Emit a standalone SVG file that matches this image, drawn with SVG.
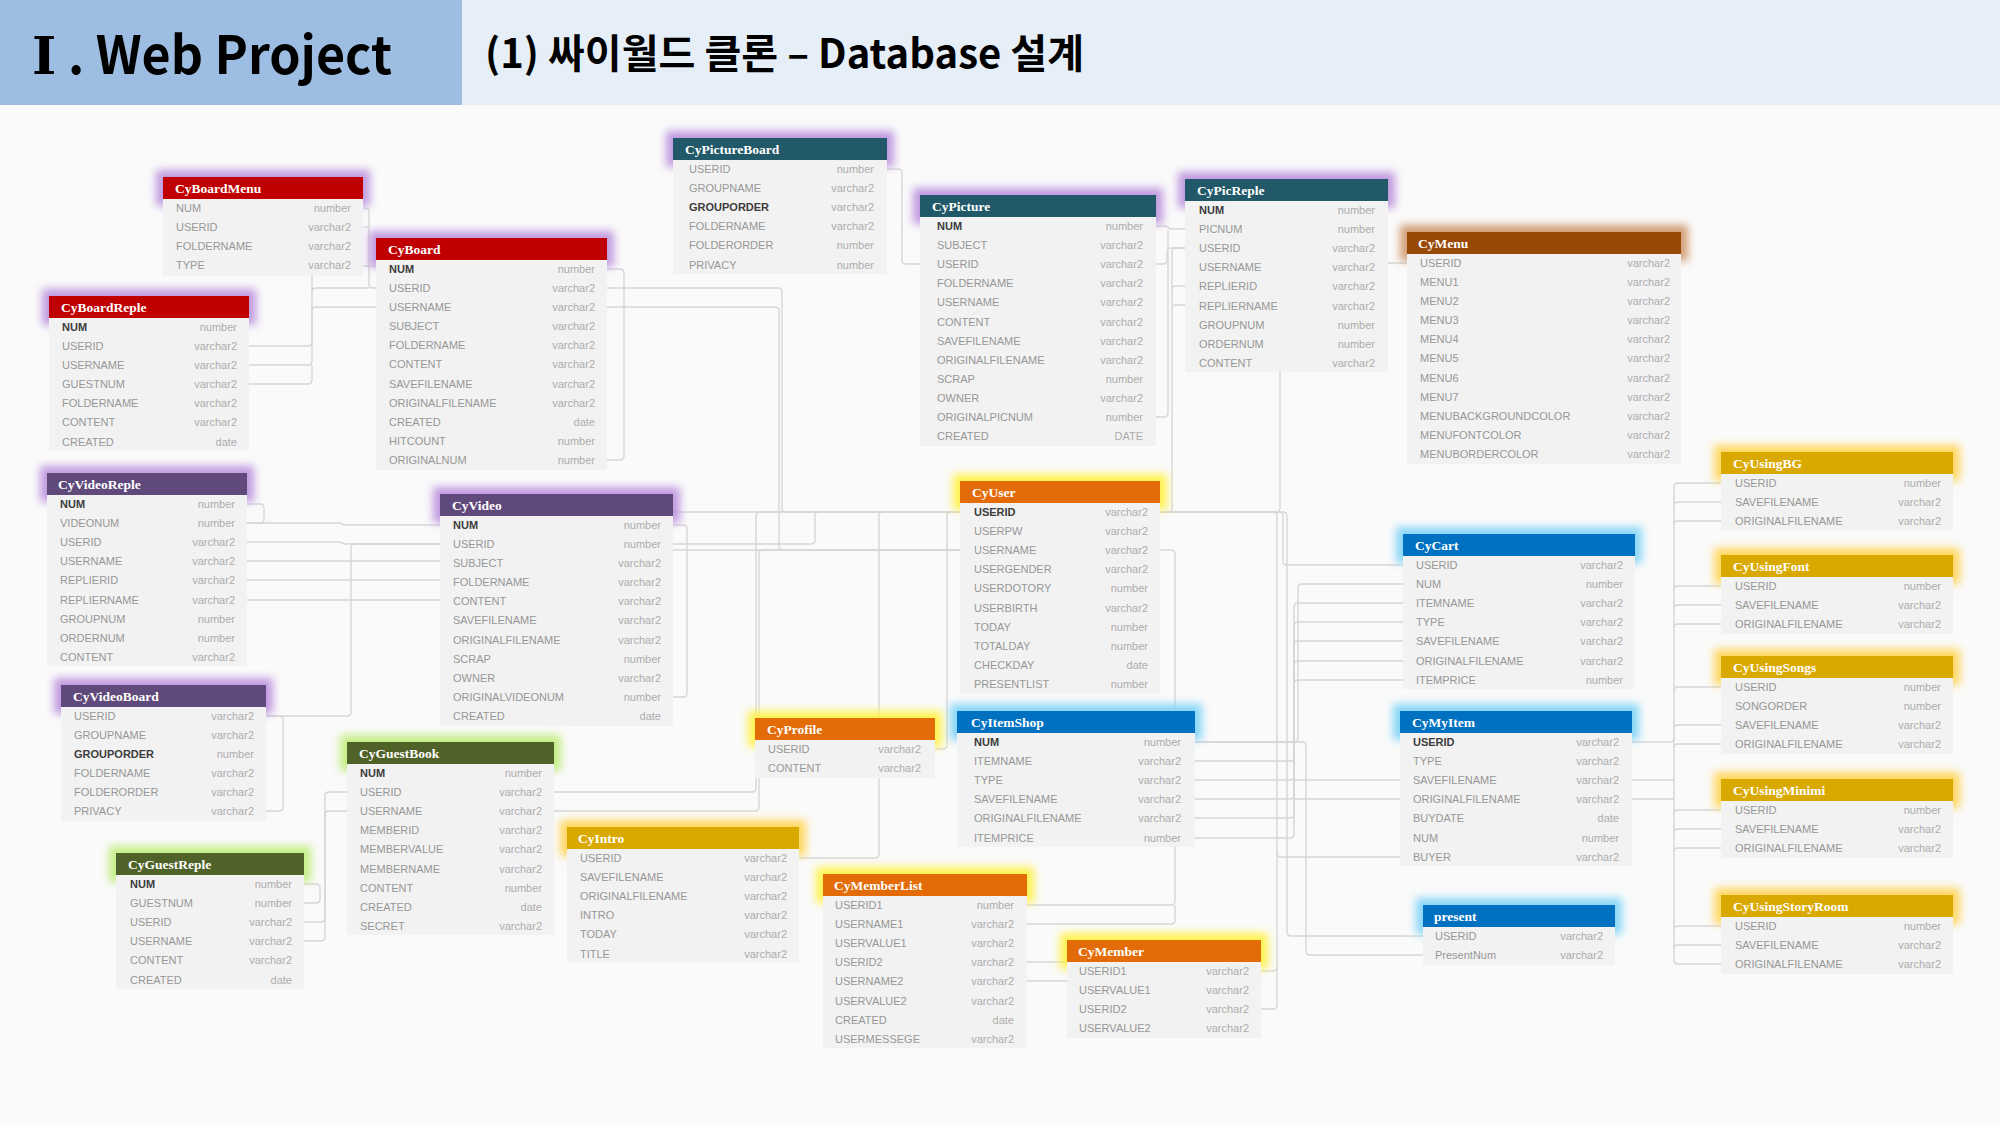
<svg xmlns="http://www.w3.org/2000/svg" width="2000" height="1125" viewBox="0 0 2000 1125">
<style>
.bg{fill:#FAFAFA}
.body{fill:#F2F2F2}
.hd{font-family:"Liberation Serif",serif;font-weight:bold;font-size:13.5px;fill:#FFFFFF}
.f{font-family:"Liberation Sans",Arial,sans-serif;font-size:11px;fill:#979797}
.k{font-family:"Liberation Sans",Arial,sans-serif;font-size:11px;font-weight:bold;fill:#3C3C3C}
.t{font-family:"Liberation Sans",Arial,sans-serif;font-size:11px;fill:#ADADAD;text-anchor:end}
.gp{fill:#C09AE0}
.gg{fill:#C4EE84}
.gy{fill:#FFF350}
.go{fill:#FFD860}
.gc{fill:#86D6F8}
.gb{fill:#D29E76}
.red{fill:#C00000}
.teal{fill:#215968}
.pur{fill:#604A7B}
.grn{fill:#4F6228}
.brn{fill:#984807}
.org{fill:#E36C09}
.blu{fill:#0070C0}
.gld{fill:#DAA900}
#connectors path{fill:none;stroke:#D6D6D6;stroke-width:1.4}
</style>
<defs>
<filter id="blur" x="-30%" y="-150%" width="160%" height="400%"><feGaussianBlur stdDeviation="4.5"/></filter>
</defs>
<rect class="bg" x="0" y="0" width="2000" height="1125"/>
<g id="titlebar">
<rect x="0" y="0" width="462" height="105" fill="#9DBEE2"/>
<rect x="462" y="0" width="1538" height="105" fill="#E6EEF8"/>
<text y="74" font-family="'Noto Sans CJK KR','Noto Sans',sans-serif" font-weight="bold" font-size="52" fill="#000"><tspan x="32" font-family="'DejaVu Serif','Liberation Serif',serif">Ⅰ</tspan><tspan x="68" textLength="324" lengthAdjust="spacingAndGlyphs">. Web Project</tspan></text>
<text x="485" y="68" font-family="'Noto Sans CJK KR','Noto Sans',sans-serif" font-weight="bold" font-size="40" fill="#000" textLength="599" lengthAdjust="spacingAndGlyphs">(1) 싸이월드 클론 – Database 설계</text>
</g>
<g id="connectors">
<path d="M363,208 H365 Q369,208 369,212 V284 Q369,288 373,288 H376"/>
<path d="M363,227 H369"/>
<path d="M363,266 H376"/>
<path d="M249,346 H308 Q312,346 312,342 V292 Q312,288 316,288 H369"/>
<path d="M249,365 H308 Q312,365 312,361 V311 Q312,307 316,307 H376"/>
<path d="M249,384 H308 Q312,384 312,380 V365"/>
<path d="M312,276 V292"/>
<path d="M607,269 H620 Q624,269 624,273 V456 Q624,460 620,460 H607"/>
<path d="M607,288 H778 Q782,288 782,292 V508 Q782,512 786,512 H960"/>
<path d="M607,307 H775 Q779,307 779,311 V546 Q779,550 783,550 H960"/>
<path d="M247,504 H260 Q264,504 264,508 V519 Q264,523 260,523 H247"/>
<path d="M247,523 H338 Q342,523 344,525 H440"/>
<path d="M247,542 H338 Q342,542 344,544 H440"/>
<path d="M247,561 H440"/>
<path d="M247,580 H440"/>
<path d="M247,600 H440"/>
<path d="M266,716 H347 Q351,716 351,712 V548 Q351,544 355,544 H440"/>
<path d="M266,716 H279 Q283,716 283,720 V807 Q283,811 279,811 H266"/>
<path d="M673,525 H683 Q687,525 687,529 V693 Q687,697 683,697 H673"/>
<path d="M673,512 H960"/>
<path d="M673,544 H811 Q815,544 815,540 V516 Q815,512 819,512"/>
<path d="M673,550 H960"/>
<path d="M554,792 H752 Q756,792 756,788 V516 Q756,512 760,512 H782"/>
<path d="M554,811 H755 Q759,811 759,807 V554 Q759,550 763,550 H779"/>
<path d="M799,858 H875 Q879,858 879,854 V516 Q879,512 883,512"/>
<path d="M935,749 H943 Q947,749 947,745 V516 Q947,512 951,512"/>
<path d="M304,884 H316 Q320,884 320,888 V899 Q320,903 316,903 H304"/>
<path d="M304,922 H321 Q325,922 325,918 V796 Q325,792 329,792 H347"/>
<path d="M304,941 H321 Q325,941 325,937 V815 Q325,811 329,811 H347"/>
<path d="M887,169 H898 Q902,169 902,173 V260 Q902,264 906,264 H920"/>
<path d="M1156,226 H1164 Q1168,226 1170,229 H1185"/>
<path d="M1156,264 H1163 Q1167,264 1167,260 V252 Q1167,248 1171,248 H1185"/>
<path d="M1156,417 H1164 Q1168,417 1168,413 V230"/>
<path d="M1185,248 H1176 Q1172,248 1172,252 V508 Q1172,512 1168,512 H1160"/>
<path d="M1185,286 H1176 Q1172,286 1172,290"/>
<path d="M1185,305 H1176 Q1172,305 1172,309"/>
<path d="M1160,550 H1171 Q1175,550 1175,554 V901 Q1175,905 1171,905 H1027"/>
<path d="M1175,905 V920 Q1175,924 1171,924 H1027"/>
<path d="M1407,263 H1284 Q1280,263 1280,267 V508 Q1280,512 1276,512 H1160"/>
<path d="M1160,512 H1279 Q1283,512 1283,516 V561 Q1283,565 1287,565 H1403"/>
<path d="M1160,512 H1273 Q1277,512 1277,516 V1005 Q1277,1009 1273,1009 H1261"/>
<path d="M1277,853 Q1277,857 1281,857 H1400"/>
<path d="M1261,971 H1273 Q1277,971 1277,967"/>
<path d="M1160,512 H1283 Q1287,512 1287,516 V932 Q1287,936 1291,936 H1423"/>
<path d="M1195,742 H1302 Q1306,742 1306,746 V951 Q1306,955 1310,955 H1423"/>
<path d="M1195,742 H1294 Q1298,742 1298,738 V588 Q1298,584 1302,584 H1403"/>
<path d="M1195,761 H1290 Q1294,761 1294,757 V607 Q1294,603 1298,603 H1403"/>
<path d="M1195,780 H1290 Q1294,780 1294,776 V626 Q1294,622 1298,622 H1403"/>
<path d="M1195,799 H1290 Q1294,799 1294,795 V645 Q1294,641 1298,641 H1403"/>
<path d="M1195,818 H1290 Q1294,818 1294,814 V665 Q1294,661 1298,661 H1403"/>
<path d="M1195,838 H1290 Q1294,838 1294,834 V684 Q1294,680 1298,680 H1403"/>
<path d="M1294,780 H1400"/>
<path d="M1294,799 H1400"/>
<path d="M1674,487 V960"/>
<path d="M1674,487 Q1674,483 1678,483 H1721"/>
<path d="M1674,506 Q1674,502 1678,502 H1721"/>
<path d="M1674,525 Q1674,521 1678,521 H1721"/>
<path d="M1674,590 Q1674,586 1678,586 H1721"/>
<path d="M1674,609 Q1674,605 1678,605 H1721"/>
<path d="M1674,628 Q1674,624 1678,624 H1721"/>
<path d="M1674,691 Q1674,687 1678,687 H1721"/>
<path d="M1674,729 Q1674,725 1678,725 H1721"/>
<path d="M1674,748 Q1674,744 1678,744 H1721"/>
<path d="M1674,814 Q1674,810 1678,810 H1721"/>
<path d="M1674,833 Q1674,829 1678,829 H1721"/>
<path d="M1674,852 Q1674,848 1678,848 H1721"/>
<path d="M1674,930 Q1674,926 1678,926 H1721"/>
<path d="M1674,949 Q1674,945 1678,945 H1721"/>
<path d="M1674,960 Q1674,964 1678,964 H1721"/>
<path d="M1632,742 H1670 Q1674,742 1674,738"/>
<path d="M1632,780 H1674"/>
<path d="M1632,799 H1674"/>
<path d="M1027,962 H1100"/>
<path d="M1027,981 H1100"/>
</g>

<g id="CyBoardMenu">
<rect class="gp" x="156" y="170" width="214" height="36" filter="url(#blur)"/>
<rect class="body" x="163" y="199" width="200" height="77"/>
<rect class="red" x="163" y="177" width="200" height="22"/>
<text class="hd" x="175" y="192.5">CyBoardMenu</text>
<text class="f" x="176" y="212">NUM</text><text class="t" x="351" y="212">number</text>
<text class="f" x="176" y="231">USERID</text><text class="t" x="351" y="231">varchar2</text>
<text class="f" x="176" y="250">FOLDERNAME</text><text class="t" x="351" y="250">varchar2</text>
<text class="f" x="176" y="269">TYPE</text><text class="t" x="351" y="269">varchar2</text>
</g>

<g id="CyBoard">
<rect class="gp" x="369" y="231" width="245" height="36" filter="url(#blur)"/>
<rect class="body" x="376" y="260" width="231" height="210"/>
<rect class="red" x="376" y="238" width="231" height="22"/>
<text class="hd" x="388" y="253.5">CyBoard</text>
<text class="k" x="389" y="273">NUM</text><text class="t" x="595" y="273">number</text>
<text class="f" x="389" y="292">USERID</text><text class="t" x="595" y="292">varchar2</text>
<text class="f" x="389" y="311">USERNAME</text><text class="t" x="595" y="311">varchar2</text>
<text class="f" x="389" y="330">SUBJECT</text><text class="t" x="595" y="330">varchar2</text>
<text class="f" x="389" y="349">FOLDERNAME</text><text class="t" x="595" y="349">varchar2</text>
<text class="f" x="389" y="368">CONTENT</text><text class="t" x="595" y="368">varchar2</text>
<text class="f" x="389" y="388">SAVEFILENAME</text><text class="t" x="595" y="388">varchar2</text>
<text class="f" x="389" y="407">ORIGINALFILENAME</text><text class="t" x="595" y="407">varchar2</text>
<text class="f" x="389" y="426">CREATED</text><text class="t" x="595" y="426">date</text>
<text class="f" x="389" y="445">HITCOUNT</text><text class="t" x="595" y="445">number</text>
<text class="f" x="389" y="464">ORIGINALNUM</text><text class="t" x="595" y="464">number</text>
</g>

<g id="CyBoardReple">
<rect class="gp" x="42" y="289" width="214" height="36" filter="url(#blur)"/>
<rect class="body" x="49" y="318" width="200" height="133"/>
<rect class="red" x="49" y="296" width="200" height="22"/>
<text class="hd" x="61" y="311.5">CyBoardReple</text>
<text class="k" x="62" y="331">NUM</text><text class="t" x="237" y="331">number</text>
<text class="f" x="62" y="350">USERID</text><text class="t" x="237" y="350">varchar2</text>
<text class="f" x="62" y="369">USERNAME</text><text class="t" x="237" y="369">varchar2</text>
<text class="f" x="62" y="388">GUESTNUM</text><text class="t" x="237" y="388">varchar2</text>
<text class="f" x="62" y="407">FOLDERNAME</text><text class="t" x="237" y="407">varchar2</text>
<text class="f" x="62" y="426">CONTENT</text><text class="t" x="237" y="426">varchar2</text>
<text class="f" x="62" y="446">CREATED</text><text class="t" x="237" y="446">date</text>
</g>

<g id="CyVideoReple">
<rect class="gp" x="40" y="466" width="214" height="36" filter="url(#blur)"/>
<rect class="body" x="47" y="495" width="200" height="171"/>
<rect class="pur" x="47" y="473" width="200" height="22"/>
<text class="hd" x="58" y="488.5">CyVideoReple</text>
<text class="k" x="60" y="508">NUM</text><text class="t" x="235" y="508">number</text>
<text class="f" x="60" y="527">VIDEONUM</text><text class="t" x="235" y="527">number</text>
<text class="f" x="60" y="546">USERID</text><text class="t" x="235" y="546">varchar2</text>
<text class="f" x="60" y="565">USERNAME</text><text class="t" x="235" y="565">varchar2</text>
<text class="f" x="60" y="584">REPLIERID</text><text class="t" x="235" y="584">varchar2</text>
<text class="f" x="60" y="604">REPLIERNAME</text><text class="t" x="235" y="604">varchar2</text>
<text class="f" x="60" y="623">GROUPNUM</text><text class="t" x="235" y="623">number</text>
<text class="f" x="60" y="642">ORDERNUM</text><text class="t" x="235" y="642">number</text>
<text class="f" x="60" y="661">CONTENT</text><text class="t" x="235" y="661">varchar2</text>
</g>

<g id="CyVideo">
<rect class="gp" x="433" y="487" width="247" height="36" filter="url(#blur)"/>
<rect class="body" x="440" y="516" width="233" height="210"/>
<rect class="pur" x="440" y="494" width="233" height="22"/>
<text class="hd" x="452" y="509.5">CyVideo</text>
<text class="k" x="453" y="529">NUM</text><text class="t" x="661" y="529">number</text>
<text class="f" x="453" y="548">USERID</text><text class="t" x="661" y="548">number</text>
<text class="f" x="453" y="567">SUBJECT</text><text class="t" x="661" y="567">varchar2</text>
<text class="f" x="453" y="586">FOLDERNAME</text><text class="t" x="661" y="586">varchar2</text>
<text class="f" x="453" y="605">CONTENT</text><text class="t" x="661" y="605">varchar2</text>
<text class="f" x="453" y="624">SAVEFILENAME</text><text class="t" x="661" y="624">varchar2</text>
<text class="f" x="453" y="644">ORIGINALFILENAME</text><text class="t" x="661" y="644">varchar2</text>
<text class="f" x="453" y="663">SCRAP</text><text class="t" x="661" y="663">number</text>
<text class="f" x="453" y="682">OWNER</text><text class="t" x="661" y="682">varchar2</text>
<text class="f" x="453" y="701">ORIGINALVIDEONUM</text><text class="t" x="661" y="701">number</text>
<text class="f" x="453" y="720">CREATED</text><text class="t" x="661" y="720">date</text>
</g>

<g id="CyVideoBoard">
<rect class="gp" x="54" y="678" width="219" height="36" filter="url(#blur)"/>
<rect class="body" x="61" y="707" width="205" height="114"/>
<rect class="pur" x="61" y="685" width="205" height="22"/>
<text class="hd" x="73" y="700.5">CyVideoBoard</text>
<text class="f" x="74" y="720">USERID</text><text class="t" x="254" y="720">varchar2</text>
<text class="f" x="74" y="739">GROUPNAME</text><text class="t" x="254" y="739">varchar2</text>
<text class="k" x="74" y="758">GROUPORDER</text><text class="t" x="254" y="758">number</text>
<text class="f" x="74" y="777">FOLDERNAME</text><text class="t" x="254" y="777">varchar2</text>
<text class="f" x="74" y="796">FOLDERORDER</text><text class="t" x="254" y="796">varchar2</text>
<text class="f" x="74" y="815">PRIVACY</text><text class="t" x="254" y="815">varchar2</text>
</g>

<g id="CyGuestBook">
<rect class="gg" x="340" y="735" width="221" height="36" filter="url(#blur)"/>
<rect class="body" x="347" y="764" width="207" height="171"/>
<rect class="grn" x="347" y="742" width="207" height="22"/>
<text class="hd" x="359" y="757.5">CyGuestBook</text>
<text class="k" x="360" y="777">NUM</text><text class="t" x="542" y="777">number</text>
<text class="f" x="360" y="796">USERID</text><text class="t" x="542" y="796">varchar2</text>
<text class="f" x="360" y="815">USERNAME</text><text class="t" x="542" y="815">varchar2</text>
<text class="f" x="360" y="834">MEMBERID</text><text class="t" x="542" y="834">varchar2</text>
<text class="f" x="360" y="853">MEMBERVALUE</text><text class="t" x="542" y="853">varchar2</text>
<text class="f" x="360" y="873">MEMBERNAME</text><text class="t" x="542" y="873">varchar2</text>
<text class="f" x="360" y="892">CONTENT</text><text class="t" x="542" y="892">number</text>
<text class="f" x="360" y="911">CREATED</text><text class="t" x="542" y="911">date</text>
<text class="f" x="360" y="930">SECRET</text><text class="t" x="542" y="930">varchar2</text>
</g>

<g id="CyGuestReple">
<rect class="gg" x="109" y="846" width="202" height="36" filter="url(#blur)"/>
<rect class="body" x="116" y="875" width="188" height="114"/>
<rect class="grn" x="116" y="853" width="188" height="22"/>
<text class="hd" x="128" y="868.5">CyGuestReple</text>
<text class="k" x="130" y="888">NUM</text><text class="t" x="292" y="888">number</text>
<text class="f" x="130" y="907">GUESTNUM</text><text class="t" x="292" y="907">number</text>
<text class="f" x="130" y="926">USERID</text><text class="t" x="292" y="926">varchar2</text>
<text class="f" x="130" y="945">USERNAME</text><text class="t" x="292" y="945">varchar2</text>
<text class="f" x="130" y="964">CONTENT</text><text class="t" x="292" y="964">varchar2</text>
<text class="f" x="130" y="984">CREATED</text><text class="t" x="292" y="984">date</text>
</g>

<g id="CyPictureBoard">
<rect class="gp" x="666" y="131" width="228" height="36" filter="url(#blur)"/>
<rect class="body" x="673" y="160" width="214" height="114"/>
<rect class="teal" x="673" y="138" width="214" height="22"/>
<text class="hd" x="685" y="153.5">CyPictureBoard</text>
<text class="f" x="689" y="173">USERID</text><text class="t" x="874" y="173">number</text>
<text class="f" x="689" y="192">GROUPNAME</text><text class="t" x="874" y="192">varchar2</text>
<text class="k" x="689" y="211">GROUPORDER</text><text class="t" x="874" y="211">varchar2</text>
<text class="f" x="689" y="230">FOLDERNAME</text><text class="t" x="874" y="230">varchar2</text>
<text class="f" x="689" y="249">FOLDERORDER</text><text class="t" x="874" y="249">number</text>
<text class="f" x="689" y="269">PRIVACY</text><text class="t" x="874" y="269">number</text>
</g>

<g id="CyPicture">
<rect class="gp" x="913" y="188" width="250" height="36" filter="url(#blur)"/>
<rect class="body" x="920" y="217" width="236" height="229"/>
<rect class="teal" x="920" y="195" width="236" height="22"/>
<text class="hd" x="932" y="210.5">CyPicture</text>
<text class="k" x="937" y="230">NUM</text><text class="t" x="1143" y="230">number</text>
<text class="f" x="937" y="249">SUBJECT</text><text class="t" x="1143" y="249">varchar2</text>
<text class="f" x="937" y="268">USERID</text><text class="t" x="1143" y="268">varchar2</text>
<text class="f" x="937" y="287">FOLDERNAME</text><text class="t" x="1143" y="287">varchar2</text>
<text class="f" x="937" y="306">USERNAME</text><text class="t" x="1143" y="306">varchar2</text>
<text class="f" x="937" y="326">CONTENT</text><text class="t" x="1143" y="326">varchar2</text>
<text class="f" x="937" y="345">SAVEFILENAME</text><text class="t" x="1143" y="345">varchar2</text>
<text class="f" x="937" y="364">ORIGINALFILENAME</text><text class="t" x="1143" y="364">varchar2</text>
<text class="f" x="937" y="383">SCRAP</text><text class="t" x="1143" y="383">number</text>
<text class="f" x="937" y="402">OWNER</text><text class="t" x="1143" y="402">varchar2</text>
<text class="f" x="937" y="421">ORIGINALPICNUM</text><text class="t" x="1143" y="421">number</text>
<text class="f" x="937" y="440">CREATED</text><text class="t" x="1143" y="440">DATE</text>
</g>

<g id="CyPicReple">
<rect class="gp" x="1178" y="172" width="217" height="36" filter="url(#blur)"/>
<rect class="body" x="1185" y="201" width="203" height="171"/>
<rect class="teal" x="1185" y="179" width="203" height="22"/>
<text class="hd" x="1197" y="194.5">CyPicReple</text>
<text class="k" x="1199" y="214">NUM</text><text class="t" x="1375" y="214">number</text>
<text class="f" x="1199" y="233">PICNUM</text><text class="t" x="1375" y="233">number</text>
<text class="f" x="1199" y="252">USERID</text><text class="t" x="1375" y="252">varchar2</text>
<text class="f" x="1199" y="271">USERNAME</text><text class="t" x="1375" y="271">varchar2</text>
<text class="f" x="1199" y="290">REPLIERID</text><text class="t" x="1375" y="290">varchar2</text>
<text class="f" x="1199" y="310">REPLIERNAME</text><text class="t" x="1375" y="310">varchar2</text>
<text class="f" x="1199" y="329">GROUPNUM</text><text class="t" x="1375" y="329">number</text>
<text class="f" x="1199" y="348">ORDERNUM</text><text class="t" x="1375" y="348">number</text>
<text class="f" x="1199" y="367">CONTENT</text><text class="t" x="1375" y="367">varchar2</text>
</g>

<g id="CyMenu">
<rect class="gb" x="1400" y="225" width="288" height="36" filter="url(#blur)"/>
<rect class="body" x="1407" y="254" width="274" height="210"/>
<rect class="brn" x="1407" y="232" width="274" height="22"/>
<text class="hd" x="1418" y="247.5">CyMenu</text>
<text class="f" x="1420" y="267">USERID</text><text class="t" x="1670" y="267">varchar2</text>
<text class="f" x="1420" y="286">MENU1</text><text class="t" x="1670" y="286">varchar2</text>
<text class="f" x="1420" y="305">MENU2</text><text class="t" x="1670" y="305">varchar2</text>
<text class="f" x="1420" y="324">MENU3</text><text class="t" x="1670" y="324">varchar2</text>
<text class="f" x="1420" y="343">MENU4</text><text class="t" x="1670" y="343">varchar2</text>
<text class="f" x="1420" y="362">MENU5</text><text class="t" x="1670" y="362">varchar2</text>
<text class="f" x="1420" y="382">MENU6</text><text class="t" x="1670" y="382">varchar2</text>
<text class="f" x="1420" y="401">MENU7</text><text class="t" x="1670" y="401">varchar2</text>
<text class="f" x="1420" y="420">MENUBACKGROUNDCOLOR</text><text class="t" x="1670" y="420">varchar2</text>
<text class="f" x="1420" y="439">MENUFONTCOLOR</text><text class="t" x="1670" y="439">varchar2</text>
<text class="f" x="1420" y="458">MENUBORDERCOLOR</text><text class="t" x="1670" y="458">varchar2</text>
</g>

<g id="CyUser">
<rect class="gy" x="953" y="474" width="214" height="36" filter="url(#blur)"/>
<rect class="body" x="960" y="503" width="200" height="190"/>
<rect class="org" x="960" y="481" width="200" height="22"/>
<text class="hd" x="972" y="496.5">CyUser</text>
<text class="k" x="974" y="516">USERID</text><text class="t" x="1148" y="516">varchar2</text>
<text class="f" x="974" y="535">USERPW</text><text class="t" x="1148" y="535">varchar2</text>
<text class="f" x="974" y="554">USERNAME</text><text class="t" x="1148" y="554">varchar2</text>
<text class="f" x="974" y="573">USERGENDER</text><text class="t" x="1148" y="573">varchar2</text>
<text class="f" x="974" y="592">USERDOTORY</text><text class="t" x="1148" y="592">number</text>
<text class="f" x="974" y="612">USERBIRTH</text><text class="t" x="1148" y="612">varchar2</text>
<text class="f" x="974" y="631">TODAY</text><text class="t" x="1148" y="631">number</text>
<text class="f" x="974" y="650">TOTALDAY</text><text class="t" x="1148" y="650">number</text>
<text class="f" x="974" y="669">CHECKDAY</text><text class="t" x="1148" y="669">date</text>
<text class="f" x="974" y="688">PRESENTLIST</text><text class="t" x="1148" y="688">number</text>
</g>

<g id="CyCart">
<rect class="gc" x="1396" y="527" width="246" height="36" filter="url(#blur)"/>
<rect class="body" x="1403" y="556" width="232" height="133"/>
<rect class="blu" x="1403" y="534" width="232" height="22"/>
<text class="hd" x="1415" y="549.5">CyCart</text>
<text class="f" x="1416" y="569">USERID</text><text class="t" x="1623" y="569">varchar2</text>
<text class="f" x="1416" y="588">NUM</text><text class="t" x="1623" y="588">number</text>
<text class="f" x="1416" y="607">ITEMNAME</text><text class="t" x="1623" y="607">varchar2</text>
<text class="f" x="1416" y="626">TYPE</text><text class="t" x="1623" y="626">varchar2</text>
<text class="f" x="1416" y="645">SAVEFILENAME</text><text class="t" x="1623" y="645">varchar2</text>
<text class="f" x="1416" y="665">ORIGINALFILENAME</text><text class="t" x="1623" y="665">varchar2</text>
<text class="f" x="1416" y="684">ITEMPRICE</text><text class="t" x="1623" y="684">number</text>
</g>

<g id="CyItemShop">
<rect class="gc" x="950" y="704" width="252" height="36" filter="url(#blur)"/>
<rect class="body" x="957" y="733" width="238" height="114"/>
<rect class="blu" x="957" y="711" width="238" height="22"/>
<text class="hd" x="971" y="726.5">CyItemShop</text>
<text class="k" x="974" y="746">NUM</text><text class="t" x="1181" y="746">number</text>
<text class="f" x="974" y="765">ITEMNAME</text><text class="t" x="1181" y="765">varchar2</text>
<text class="f" x="974" y="784">TYPE</text><text class="t" x="1181" y="784">varchar2</text>
<text class="f" x="974" y="803">SAVEFILENAME</text><text class="t" x="1181" y="803">varchar2</text>
<text class="f" x="974" y="822">ORIGINALFILENAME</text><text class="t" x="1181" y="822">varchar2</text>
<text class="f" x="974" y="842">ITEMPRICE</text><text class="t" x="1181" y="842">number</text>
</g>

<g id="CyMyItem">
<rect class="gc" x="1393" y="704" width="246" height="36" filter="url(#blur)"/>
<rect class="body" x="1400" y="733" width="232" height="133"/>
<rect class="blu" x="1400" y="711" width="232" height="22"/>
<text class="hd" x="1412" y="726.5">CyMyItem</text>
<text class="k" x="1413" y="746">USERID</text><text class="t" x="1619" y="746">varchar2</text>
<text class="f" x="1413" y="765">TYPE</text><text class="t" x="1619" y="765">varchar2</text>
<text class="f" x="1413" y="784">SAVEFILENAME</text><text class="t" x="1619" y="784">varchar2</text>
<text class="f" x="1413" y="803">ORIGINALFILENAME</text><text class="t" x="1619" y="803">varchar2</text>
<text class="f" x="1413" y="822">BUYDATE</text><text class="t" x="1619" y="822">date</text>
<text class="f" x="1413" y="842">NUM</text><text class="t" x="1619" y="842">number</text>
<text class="f" x="1413" y="861">BUYER</text><text class="t" x="1619" y="861">varchar2</text>
</g>

<g id="CyProfile">
<rect class="gy" x="748" y="711" width="194" height="36" filter="url(#blur)"/>
<rect class="body" x="755" y="740" width="180" height="38"/>
<rect class="org" x="755" y="718" width="180" height="22"/>
<text class="hd" x="767" y="733.5">CyProfile</text>
<text class="f" x="768" y="753">USERID</text><text class="t" x="921" y="753">varchar2</text>
<text class="f" x="768" y="772">CONTENT</text><text class="t" x="921" y="772">varchar2</text>
</g>

<g id="CyIntro">
<rect class="go" x="560" y="820" width="246" height="36" filter="url(#blur)"/>
<rect class="body" x="567" y="849" width="232" height="114"/>
<rect class="gld" x="567" y="827" width="232" height="22"/>
<text class="hd" x="578" y="842.5">CyIntro</text>
<text class="f" x="580" y="862">USERID</text><text class="t" x="787" y="862">varchar2</text>
<text class="f" x="580" y="881">SAVEFILENAME</text><text class="t" x="787" y="881">varchar2</text>
<text class="f" x="580" y="900">ORIGINALFILENAME</text><text class="t" x="787" y="900">varchar2</text>
<text class="f" x="580" y="919">INTRO</text><text class="t" x="787" y="919">varchar2</text>
<text class="f" x="580" y="938">TODAY</text><text class="t" x="787" y="938">varchar2</text>
<text class="f" x="580" y="958">TITLE</text><text class="t" x="787" y="958">varchar2</text>
</g>

<g id="CyMemberList">
<rect class="gy" x="816" y="867" width="218" height="36" filter="url(#blur)"/>
<rect class="body" x="823" y="896" width="204" height="152"/>
<rect class="org" x="823" y="874" width="204" height="22"/>
<text class="hd" x="834" y="889.5">CyMemberList</text>
<text class="f" x="835" y="909">USERID1</text><text class="t" x="1014" y="909">number</text>
<text class="f" x="835" y="928">USERNAME1</text><text class="t" x="1014" y="928">varchar2</text>
<text class="f" x="835" y="947">USERVALUE1</text><text class="t" x="1014" y="947">varchar2</text>
<text class="f" x="835" y="966">USERID2</text><text class="t" x="1014" y="966">varchar2</text>
<text class="f" x="835" y="985">USERNAME2</text><text class="t" x="1014" y="985">varchar2</text>
<text class="f" x="835" y="1005">USERVALUE2</text><text class="t" x="1014" y="1005">varchar2</text>
<text class="f" x="835" y="1024">CREATED</text><text class="t" x="1014" y="1024">date</text>
<text class="f" x="835" y="1043">USERMESSEGE</text><text class="t" x="1014" y="1043">varchar2</text>
</g>

<g id="CyMember">
<rect class="gy" x="1060" y="933" width="208" height="36" filter="url(#blur)"/>
<rect class="body" x="1067" y="962" width="194" height="76"/>
<rect class="org" x="1067" y="940" width="194" height="22"/>
<text class="hd" x="1078" y="955.5">CyMember</text>
<text class="f" x="1079" y="975">USERID1</text><text class="t" x="1249" y="975">varchar2</text>
<text class="f" x="1079" y="994">USERVALUE1</text><text class="t" x="1249" y="994">varchar2</text>
<text class="f" x="1079" y="1013">USERID2</text><text class="t" x="1249" y="1013">varchar2</text>
<text class="f" x="1079" y="1032">USERVALUE2</text><text class="t" x="1249" y="1032">varchar2</text>
</g>

<g id="present">
<rect class="gc" x="1416" y="898" width="206" height="36" filter="url(#blur)"/>
<rect class="body" x="1423" y="927" width="192" height="38"/>
<rect class="blu" x="1423" y="905" width="192" height="22"/>
<text class="hd" x="1434" y="920.5">present</text>
<text class="f" x="1435" y="940">USERID</text><text class="t" x="1603" y="940">varchar2</text>
<text class="f" x="1435" y="959">PresentNum</text><text class="t" x="1603" y="959">varchar2</text>
</g>

<g id="CyUsingBG">
<rect class="go" x="1714" y="445" width="246" height="36" filter="url(#blur)"/>
<rect class="body" x="1721" y="474" width="232" height="57"/>
<rect class="gld" x="1721" y="452" width="232" height="22"/>
<text class="hd" x="1733" y="467.5">CyUsingBG</text>
<text class="f" x="1735" y="487">USERID</text><text class="t" x="1941" y="487">number</text>
<text class="f" x="1735" y="506">SAVEFILENAME</text><text class="t" x="1941" y="506">varchar2</text>
<text class="f" x="1735" y="525">ORIGINALFILENAME</text><text class="t" x="1941" y="525">varchar2</text>
</g>

<g id="CyUsingFont">
<rect class="go" x="1714" y="548" width="246" height="36" filter="url(#blur)"/>
<rect class="body" x="1721" y="577" width="232" height="57"/>
<rect class="gld" x="1721" y="555" width="232" height="22"/>
<text class="hd" x="1733" y="570.5">CyUsingFont</text>
<text class="f" x="1735" y="590">USERID</text><text class="t" x="1941" y="590">number</text>
<text class="f" x="1735" y="609">SAVEFILENAME</text><text class="t" x="1941" y="609">varchar2</text>
<text class="f" x="1735" y="628">ORIGINALFILENAME</text><text class="t" x="1941" y="628">varchar2</text>
</g>

<g id="CyUsingSongs">
<rect class="go" x="1714" y="649" width="246" height="36" filter="url(#blur)"/>
<rect class="body" x="1721" y="678" width="232" height="76"/>
<rect class="gld" x="1721" y="656" width="232" height="22"/>
<text class="hd" x="1733" y="671.5">CyUsingSongs</text>
<text class="f" x="1735" y="691">USERID</text><text class="t" x="1941" y="691">number</text>
<text class="f" x="1735" y="710">SONGORDER</text><text class="t" x="1941" y="710">number</text>
<text class="f" x="1735" y="729">SAVEFILENAME</text><text class="t" x="1941" y="729">varchar2</text>
<text class="f" x="1735" y="748">ORIGINALFILENAME</text><text class="t" x="1941" y="748">varchar2</text>
</g>

<g id="CyUsingMinimi">
<rect class="go" x="1714" y="772" width="246" height="36" filter="url(#blur)"/>
<rect class="body" x="1721" y="801" width="232" height="57"/>
<rect class="gld" x="1721" y="779" width="232" height="22"/>
<text class="hd" x="1733" y="794.5">CyUsingMinimi</text>
<text class="f" x="1735" y="814">USERID</text><text class="t" x="1941" y="814">number</text>
<text class="f" x="1735" y="833">SAVEFILENAME</text><text class="t" x="1941" y="833">varchar2</text>
<text class="f" x="1735" y="852">ORIGINALFILENAME</text><text class="t" x="1941" y="852">varchar2</text>
</g>

<g id="CyUsingStoryRoom">
<rect class="go" x="1714" y="888" width="246" height="36" filter="url(#blur)"/>
<rect class="body" x="1721" y="917" width="232" height="57"/>
<rect class="gld" x="1721" y="895" width="232" height="22"/>
<text class="hd" x="1733" y="910.5">CyUsingStoryRoom</text>
<text class="f" x="1735" y="930">USERID</text><text class="t" x="1941" y="930">number</text>
<text class="f" x="1735" y="949">SAVEFILENAME</text><text class="t" x="1941" y="949">varchar2</text>
<text class="f" x="1735" y="968">ORIGINALFILENAME</text><text class="t" x="1941" y="968">varchar2</text>
</g>
</svg>
